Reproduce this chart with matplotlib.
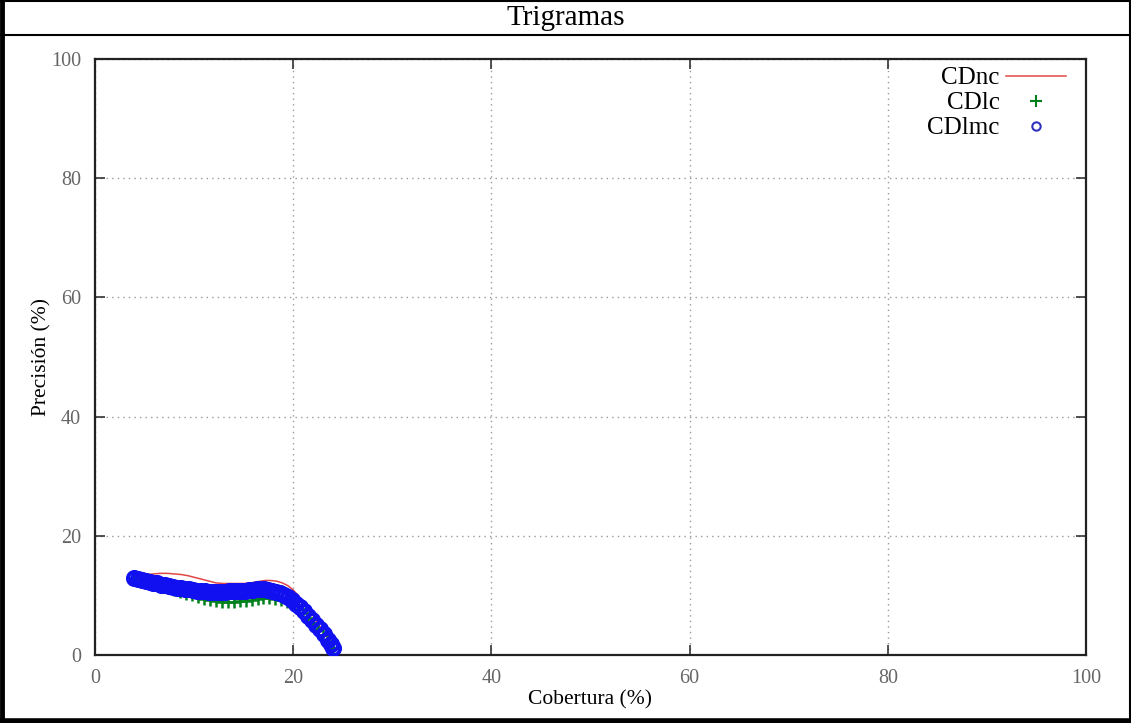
import matplotlib
matplotlib.use("Agg")
import matplotlib.pyplot as plt
from matplotlib.lines import Line2D

plt.rcParams['font.family'] = ['Liberation Serif', 'DejaVu Serif']

title = "Trigramas"
xlabel = "Cobertura (%)"
ylabel = "Precisión (%)"
xticks = [0, 20, 40, 60, 80, 100]
yticks = [0, 20, 40, 60, 80, 100]

# CDnc (red line)
cdnc_x = [3.9, 4.5, 5.2, 5.9, 6.6, 7.3, 8.0, 8.7, 9.4, 10.1, 10.8, 11.5, 12.2, 12.9,
          13.6, 14.3, 15.0, 15.7, 16.4, 17.1, 17.7, 18.3, 18.9, 19.5, 20.0, 20.5,
          21.0, 21.5, 22.0, 22.5, 23.0, 23.5, 24.0]
cdnc_y = [13.0, 13.3, 13.5, 13.6, 13.7, 13.7, 13.6, 13.5, 13.3, 13.0, 12.7, 12.4, 12.1, 12.0,
          12.0, 12.0, 12.0, 12.1, 12.3, 12.5, 12.5, 12.4, 12.1, 11.6, 10.9, 10.0,
          8.9, 7.8, 6.6, 5.3, 4.0, 2.7, 1.2]

# CDlc (green plus)
cdlc_x = [3.9, 4.4, 5.0, 5.6, 6.2, 6.8, 7.4, 8.0, 8.6, 9.2, 9.8, 10.4, 11.0, 11.6, 12.2,
          12.8, 13.4, 14.0, 14.6, 15.2, 15.8, 16.4, 17.0, 17.6, 18.2, 18.8, 19.4, 20.0,
          20.5, 21.0, 21.5, 22.0, 22.5, 23.0, 23.5, 24.0]
cdlc_y = [13.0, 12.7, 12.4, 12.1, 11.8, 11.5, 11.2, 10.9, 10.6, 10.3, 10.0, 9.7, 9.4, 9.2, 9.0,
          8.9, 8.9, 8.9, 9.0, 9.1, 9.2, 9.4, 9.5, 9.5, 9.4, 9.2, 8.9, 8.4,
          7.8, 7.0, 6.2, 5.3, 4.4, 3.4, 2.3, 1.1]

# CDlmc (blue circles)
cdlmc_x = [3.9, 4.3, 4.7, 5.1, 5.5, 5.9, 6.3, 6.7, 7.1, 7.5, 7.9, 8.3, 8.7, 9.1, 9.5, 9.9,
           10.3, 10.7, 11.1, 11.5, 11.9, 12.3, 12.7, 13.1, 13.5, 13.9, 14.3, 14.7, 15.1,
           15.5, 15.9, 16.3, 16.7, 17.1, 17.5, 17.9, 18.3, 18.7, 19.1, 19.5, 19.9, 20.3,
           20.7, 21.1, 21.5, 21.9, 22.3, 22.7, 23.1, 23.5, 23.8, 24.0]
cdlmc_y = [13.0, 12.8, 12.6, 12.4, 12.3, 12.1, 12.0, 11.8, 11.7, 11.5, 11.4, 11.3, 11.2, 11.1,
           11.0, 10.9, 10.8, 10.7, 10.7, 10.6, 10.6, 10.6, 10.6, 10.6, 10.7, 10.7, 10.8, 10.8,
           10.8, 10.9, 10.9, 11.0, 11.0, 11.0, 10.9, 10.8, 10.6, 10.4, 10.1, 9.7, 9.2, 8.6,
           8.0, 7.3, 6.6, 5.9, 5.1, 4.3, 3.5, 2.6, 1.8, 1.1]

W, H = 1131, 723
fig = plt.figure(figsize=(W / 100, H / 100), dpi=100)

ax = fig.add_axes([95 / W, 1 - 655 / H, (1086 - 95) / W, (655 - 59) / H])

ax.plot(cdnc_x, cdnc_y, color='#e04848', lw=1.1, label='CDnc', zorder=3)
ax.plot(cdlc_x, cdlc_y, ls='none', marker='+', ms=8, mew=1.8, color='#00801a',
        label='CDlc', zorder=4)
ax.plot(cdlmc_x, cdlmc_y, ls='none', marker='o', ms=9.5, mew=2.8, mfc='none',
        mec='#1010f0', label='CDlmc', zorder=5)

ax.set_xlim(0, 100)
ax.set_ylim(0, 100)
ax.set_xticks(xticks)
ax.set_yticks(yticks)
ax.grid(True, color='#999999', ls=(0, (1, 3)), lw=1.0)
ax.tick_params(direction='in', length=7, width=1.2, top=True, right=True,
               labelsize=14.5, labelcolor='#666666', pad=10, color='#333333')
for s in ax.spines.values():
    s.set_linewidth(1.6)
    s.set_color('#222222')

ax.set_xlabel(xlabel, fontsize=15.5, labelpad=2)
ax.set_ylabel(ylabel, fontsize=15.5, labelpad=0)

handles = [Line2D([], [], color='#e04848', lw=1.1),
           Line2D([], [], ls='none', marker='+', ms=8, mew=1.5, color='#00801a'),
           Line2D([], [], ls='none', marker='o', ms=6, mew=1.5, mfc='none', mec='#3030c0')]
ax.legend(handles, ['CDnc', 'CDlc', 'CDlmc'], loc='upper right', frameon=False,
          markerfirst=False, fontsize=18, handlelength=2.4, handletextpad=0.25,
          labelspacing=0.1, bbox_to_anchor=(0.995, 1.012), borderaxespad=0.2)

# table-like frame
fig.text(566 / W, 1 - 18 / H, title, ha='center', va='center', fontsize=21)
fig.add_artist(Line2D([2 / W, 2 / W], [0, 1], transform=fig.transFigure, color='black', lw=3.5))
fig.add_artist(Line2D([1130 / W, 1130 / W], [0, 1], transform=fig.transFigure, color='black', lw=1.5))
fig.add_artist(Line2D([0, 1], [1 - 0.5 / H, 1 - 0.5 / H], transform=fig.transFigure, color='black', lw=1.5))
fig.add_artist(Line2D([0, 1], [2.5 / H, 2.5 / H], transform=fig.transFigure, color='black', lw=4))
fig.add_artist(Line2D([0, 1], [1 - 35 / H, 1 - 35 / H], transform=fig.transFigure, color='black', lw=1.5))

fig.savefig('out.png', dpi=100)
